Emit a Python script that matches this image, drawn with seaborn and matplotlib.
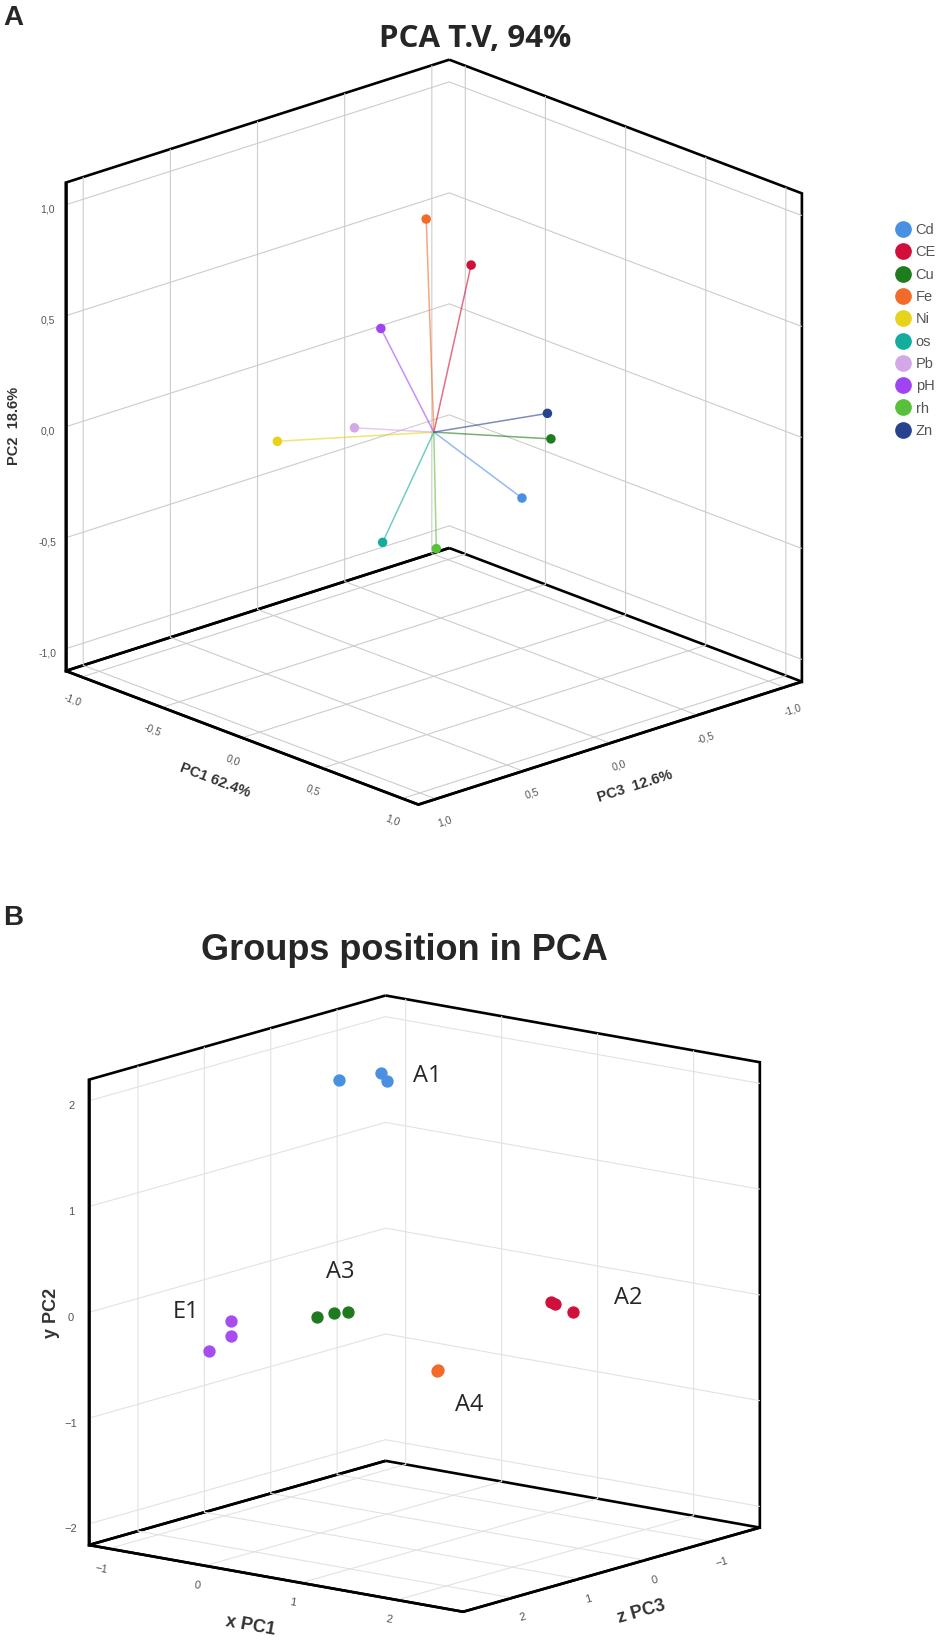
import numpy as np
import pandas as pd
import matplotlib
matplotlib.use("Agg")
import matplotlib.pyplot as plt
import seaborn as sns
from matplotlib.lines import Line2D
from matplotlib.ticker import FuncFormatter
from mpl_toolkits.mplot3d import proj3d

sns.set_theme(style="white")
plt.rcParams['font.family'] = ['Liberation Sans', 'DejaVu Sans']

# ---- panel A: variable loadings on the first three PCs
variables = ["Cd", "CE", "Cu", "Fe", "Ni", "os", "Pb", "pH", "rh", "Zn"]
pc1_load = [0.80, 0.20, 0.85, -0.20, -0.90, -0.45, -0.80, -0.70, -0.30, 0.85]
pc2_load = [-0.02, 0.80, 0.23, 0.87, -0.27, -0.65, -0.27, 0.19, -0.68, 0.35]
pc3_load = [0.23, -0.03, 0.11, -0.14, 0.07, -0.12, -0.28, -0.34, -0.29, 0.13]
var_colors = ["#4a90e2", "#d0103a", "#1e7b1e", "#f26b2a", "#e6d31a",
              "#13ad9e", "#d4a8e6", "#a044f2", "#58c03a", "#27428f"]
load_ticks = [-1.0, -0.5, 0.0, 0.5, 1.0]

# ---- panel B: sample scores by group
sample_group = ["A1", "A1", "A1", "E1", "E1", "E1", "A3", "A3", "A3",
                "A4", "A4", "A2", "A2", "A2"]
pc1_score = [-0.30, -0.10, -0.10, -0.90, -0.90, -1.00, -0.60, -0.50, -0.45,
             0.60, 0.62, 1.75, 1.80, 1.90]
pc2_score = [1.91, 1.95, 1.85, -0.33, -0.47, -0.60, -0.40, -0.37, -0.37,
             -0.73, -0.72, 0.10, 0.09, 0.01]
pc3_score = [0.28, -0.05, -0.14, 1.04, 1.05, 1.24, 0.18, 0.07, -0.06,
             0.11, 0.12, 0.06, 0.07, -0.06]
group_names = ["A1", "E1", "A3", "A4", "A2"]
group_colors = ["#4a90e2", "#a64df0", "#1f7a1f", "#f26b2a", "#d0103a"]
score_ticks_pc1 = [-1, 0, 1, 2]
score_ticks_pc3 = [-1, 0, 1, 2]
score_ticks_pc2 = [-2, -1, 0, 1, 2]

loadings = pd.DataFrame({"var": variables, "pc1": pc1_load, "pc2": pc2_load, "pc3": pc3_load})
scores = pd.DataFrame({"group": sample_group, "pc1": pc1_score, "pc2": pc2_score, "pc3": pc3_score})
pal_a = dict(zip(variables, sns.color_palette(var_colors)))
pal_b = dict(zip(group_names, sns.color_palette(group_colors)))


def style_box(ax, grid_color):
    for axis in (ax.xaxis, ax.yaxis, ax.zaxis):
        axis.set_pane_color("white")
        # clear face (so no pane hides another one's outline), black outline
        axis.pane.set_alpha(None)
        axis.pane.set_facecolor((1, 1, 1, 0))
        axis.pane.set_edgecolor((0, 0, 0, 1))
        axis.pane.set_linewidth(1.9)
        axis.line.set_color("black")
        axis.line.set_linewidth(1.9)
        axis._axinfo["grid"].update(color=grid_color, linewidth=0.8)
        axis._axinfo["tick"].update(inward_factor=0.0, outward_factor=0.0)
    ax.grid(True)
    ax.set_proj_type("ortho")
    ax.set_box_aspect((1, 1, 1))


fig = plt.figure(figsize=(9.5, 16.52), dpi=100)

# ================= panel A
ax1 = fig.add_axes([-0.01684, 0.4661, 0.9221, 0.5303], projection="3d")
style_box(ax1, "#cccccc")
ax1.view_init(elev=20.4, azim=47.4)
ax1.set_xlim(-1.1, 1.1, view_margin=0)
ax1.set_ylim(-1.1, 1.1, view_margin=0)
ax1.set_zlim(-1.1, 1.1, view_margin=0)

for _, r in loadings.iterrows():
    c = pal_a[r["var"]]
    ax1.plot([0, r["pc3"]], [0, r["pc1"]], [0, r["pc2"]], color=c, lw=1.1, alpha=0.6)
ax1.scatter(loadings["pc3"], loadings["pc1"], loadings["pc2"],
            c=[pal_a[v] for v in loadings["var"]], s=34, depthshade=False, alpha=1)

comma = FuncFormatter(lambda v, p: f"{v:.1f}".replace(".", ","))
for axis in (ax1.xaxis, ax1.yaxis, ax1.zaxis):
    axis.set_ticks(load_ticks)
    axis.set_major_formatter(comma)
ax1.tick_params(axis="x", labelsize=7.5, colors="#555555", pad=0, labelrotation=18)
ax1.tick_params(axis="y", labelsize=7.5, colors="#555555", pad=0, labelrotation=-21)
ax1.tick_params(axis="z", labelsize=7.5, colors="#555555", pad=0)
lab_kw = dict(fontsize=10.5, fontweight="bold", color="#333333")
ax1.set_xlabel("PC3  12.6%", labelpad=2, **lab_kw)
ax1.set_ylabel("PC1 62.4%", labelpad=2, **lab_kw)
ax1.set_zlabel("PC2  18.6%", labelpad=2, **lab_kw)

handles = [Line2D([], [], marker="o", linestyle="", markersize=11,
                  markerfacecolor=pal_a[v], markeredgecolor=pal_a[v]) for v in variables]
fig.legend(handles, variables, loc="upper left", bbox_to_anchor=(0.937, 0.8685),
           frameon=False, fontsize=10.5, handlelength=1.0, handletextpad=0.35,
           labelspacing=0.57, labelcolor="#555555", borderaxespad=0)

fig.text(0.5, 1605 / 1652, "PCA T.V, 94%", ha="center", va="baseline",
         fontsize=22.5, fontweight="bold", family=["Open Sans", "DejaVu Sans"])
fig.text(0.003, 1627 / 1652, "A", ha="left", va="baseline", fontsize=20, fontweight="bold")

# ================= panel B
ax2 = fig.add_axes([0.01263, -0.03874, 0.8453, 0.4861], projection="3d")
style_box(ax2, "#e2e2e2")
ax2.view_init(elev=13.0, azim=38.4)
ax2.set_xlim(-1.73, 2.74, view_margin=0)
ax2.set_ylim(-1.21, 2.69, view_margin=0)
ax2.set_zlim(-2.2, 2.2, view_margin=0)

for g in group_names:
    sub = scores[scores["group"] == g]
    ax2.scatter(sub["pc3"], sub["pc1"], sub["pc2"], color=pal_b[g], s=62,
                depthshade=False, alpha=1)

ax2.xaxis.set_ticks(score_ticks_pc3)
ax2.yaxis.set_ticks(score_ticks_pc1)
ax2.zaxis.set_ticks(score_ticks_pc2)
ax2.tick_params(axis="x", labelsize=8, colors="#555555", pad=0, labelrotation=16)
ax2.tick_params(axis="y", labelsize=8, colors="#555555", pad=0, labelrotation=-10)
ax2.tick_params(axis="z", labelsize=8, colors="#555555", pad=0)
lab_kw2 = dict(fontsize=13, fontweight="bold", color="#333333")
ax2.set_xlabel("z PC3", labelpad=3, **lab_kw2)
ax2.set_ylabel("x PC1", labelpad=5, **lab_kw2)
ax2.set_zlabel("y PC2", labelpad=-4, **lab_kw2)

# group names next to their clusters (offsets in points)
label_offsets = {"A1": (42, 1), "E1": (-27, 17), "A3": (5, 30), "A4": (23, -25), "A2": (49, 6)}
M = ax2.get_proj()
for g in group_names:
    sub = scores[scores["group"] == g]
    x2, y2, _ = proj3d.proj_transform(sub["pc3"].mean(), sub["pc1"].mean(), sub["pc2"].mean(), M)
    ax2.annotate(g, xy=(x2, y2), xytext=label_offsets[g], textcoords="offset points",
                 ha="center", va="center", fontsize=17, family=["Open Sans", "DejaVu Sans"])

fig.text(404 / 950, 692 / 1652, "Groups position in PCA", ha="center", va="baseline",
         fontsize=26, fontweight="bold")
fig.text(0.003, 727 / 1652, "B", ha="left", va="baseline", fontsize=20, fontweight="bold")

fig.savefig("out.png", dpi=100)
